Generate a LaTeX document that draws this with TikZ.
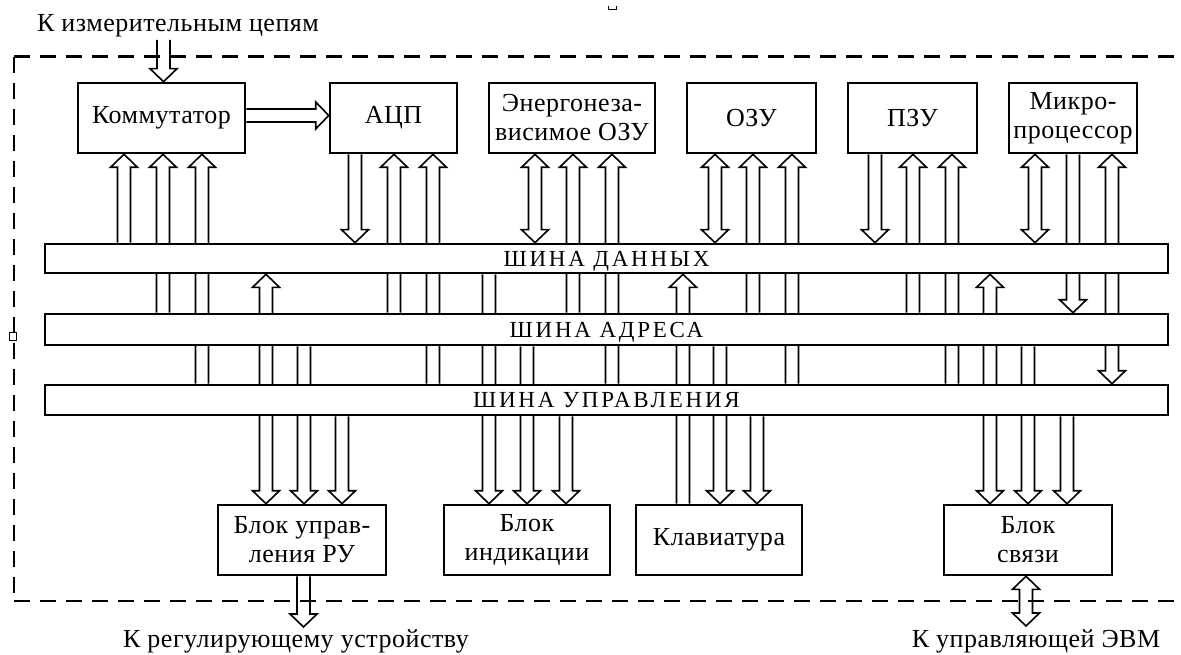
\documentclass[tikz,border=0pt]{standalone}
\usepackage{fontspec}
\setmainfont[LetterSpace=2]{Liberation Serif}
\newfontfamily\busfont[LetterSpace=12]{Liberation Serif}
\usetikzlibrary{calc,backgrounds}

\def\pipeW{6.5pt}
\def\pipeH{13.5pt}
\def\pipeL{13pt}

% #1 reference node, #2 x offset, #3 top anchor, #4 bottom anchor
\newcommand\pipeNN[4]{\draw[pipe] let \p3=($(#1.center)+(#2,0)$), \p1=(#3), \p2=(#4) in
  (\x3-\pipeW,\y1) -- (\x3-\pipeW,\y2) -- (\x3+\pipeW,\y2) -- (\x3+\pipeW,\y1);}
\newcommand\pipeUN[4]{\draw[pipe] let \p3=($(#1.center)+(#2,0)$), \p1=(#3), \p2=(#4) in
  (\x3-\pipeW,\y2) -- (\x3-\pipeW,\y1-\pipeL) -- (\x3-\pipeH,\y1-\pipeL) -- (\x3,\y1)
  -- (\x3+\pipeH,\y1-\pipeL) -- (\x3+\pipeW,\y1-\pipeL) -- (\x3+\pipeW,\y2);}
\newcommand\pipeND[4]{\draw[pipe] let \p3=($(#1.center)+(#2,0)$), \p1=(#3), \p2=(#4) in
  (\x3-\pipeW,\y1) -- (\x3-\pipeW,\y2+\pipeL) -- (\x3-\pipeH,\y2+\pipeL) -- (\x3,\y2)
  -- (\x3+\pipeH,\y2+\pipeL) -- (\x3+\pipeW,\y2+\pipeL) -- (\x3+\pipeW,\y1);}
\newcommand\pipeUD[4]{\draw[pipe] let \p3=($(#1.center)+(#2,0)$), \p1=(#3), \p2=(#4) in
  (\x3-\pipeW,\y1-\pipeL) -- (\x3-\pipeW,\y2+\pipeL) -- (\x3-\pipeH,\y2+\pipeL) -- (\x3,\y2)
  -- (\x3+\pipeH,\y2+\pipeL) -- (\x3+\pipeW,\y2+\pipeL) -- (\x3+\pipeW,\y1-\pipeL)
  -- (\x3+\pipeH,\y1-\pipeL) -- (\x3,\y1) -- (\x3-\pipeH,\y1-\pipeL) -- cycle;}

\tikzset{
  blk/.style={draw, line width=2.6pt, fill=white, inner sep=0pt, align=center,
    minimum height=70pt, font=\fontsize{26}{29}\selectfont},
  bus/.style={draw, line width=2.6pt, fill=white, inner sep=0pt,
    text height=15pt, text depth=0pt,
    minimum width=1123pt, font=\busfont\fontsize{23}{25}\selectfont},
  pipe/.style={draw, line width=1.6pt, fill=white, line join=miter},
  lbl/.style={font=\fontsize{26}{29}\selectfont, inner sep=0pt, anchor=base},
  frame/.style={dash pattern=on 16pt off 10pt},
}

\begin{document}
\begin{tikzpicture}[x=1pt,y=-1pt]
\useasboundingbox (0,0) rectangle (1181,655);

% top blocks
\node[blk, minimum width=167pt] (komm) at (161.5,118) {Коммутатор};
\node[blk, minimum width=127pt] (adc)  at (393.5,118) {АЦП};
\node[blk, minimum width=166pt] (eozu) at (572,118) {Энергонеза-\\висимое ОЗУ};
\node[blk, minimum width=129pt] (ozu)  at (751.5,118) {ОЗУ};
\node[blk, minimum width=129pt] (pzu)  at (912.5,118) {ПЗУ};
\node[blk, minimum width=128pt] (mp)   at (1073,118) {Микро-\\процессор};

% buses
\node[bus, minimum height=29pt] (dbus) at (606.5,258.5) {ШИНА ДАННЫХ};
\node[bus, minimum height=31pt] (abus) at (606.5,329.5) {ШИНА АДРЕСА};
\node[bus, minimum height=30pt] (cbus) at (606.5,400) {ШИНА УПРАВЛЕНИЯ};

% bottom blocks
\node[blk, minimum width=168pt] (bur)  at (302,540) {Блок управ-\\ления РУ};
\node[blk, minimum width=166pt] (bind) at (527,540) {Блок\\индикации};
\node[blk, minimum width=166pt] (klav) at (719,540) {Клавиатура};
\node[blk, minimum width=168pt] (bsv)  at (1028,540) {Блок\\связи};

% labels
\node[lbl] (lin)  at (178,32) {К измерительным цепям};
\node[lbl] (lreg) at (296,647) {К регулирующему устройству};
\node[lbl] (levm) at (1036,647) {К управляющей ЭВМ};

\coordinate (inp)  at (163.5,40);
\coordinate (outr) at (303.5,627);
\coordinate (oute) at (1026,626);

\begin{pgfonlayer}{background}
% input / outputs
\pipeND{inp}{0}{inp}{komm.north}
\pipeND{outr}{0}{bur.south}{outr}
\pipeUD{oute}{0}{bsv.south}{oute}
% komm -> adc
\draw[pipe] let \p1=($(komm.east)+(0,-2.5)$), \p2=(adc.west) in
  (\x1,\y1+\pipeW) -- (\x2-\pipeL,\y1+\pipeW) -- (\x2-\pipeL,\y1+\pipeH) -- (\x2,\y1)
  -- (\x2-\pipeL,\y1-\pipeH) -- (\x2-\pipeL,\y1-\pipeW) -- (\x1,\y1-\pipeW);

% Kommutator
\pipeUN{komm}{-37.5}{komm.south}{dbus.north}
\pipeUN{komm}{1.5}{komm.south}{abus.north}
\pipeUN{komm}{40.5}{komm.south}{cbus.north}
% ADC
\pipeND{adc}{-38.5}{adc.south}{dbus.north}
\pipeUN{adc}{0.5}{adc.south}{abus.north}
\pipeUN{adc}{39.5}{adc.south}{cbus.north}
% non-volatile RAM
\pipeUD{eozu}{-37}{eozu.south}{dbus.north}
\pipeUN{eozu}{1}{eozu.south}{abus.north}
\pipeUN{eozu}{40}{eozu.south}{cbus.north}
% RAM
\pipeUD{ozu}{-36.5}{ozu.south}{dbus.north}
\pipeUN{ozu}{1.5}{ozu.south}{abus.north}
\pipeUN{ozu}{40.5}{ozu.south}{cbus.north}
% ROM
\pipeND{pzu}{-37.5}{pzu.south}{dbus.north}
\pipeUN{pzu}{0.5}{pzu.south}{abus.north}
\pipeUN{pzu}{39.5}{pzu.south}{cbus.north}
% microprocessor
\pipeUD{mp}{-38}{mp.south}{dbus.north}
\pipeND{mp}{0}{mp.south}{abus.north}
\pipeUD{mp}{39}{mp.south}{cbus.north}

% control unit
\pipeUD{bur}{-36}{dbus.south}{bur.north}
\pipeND{bur}{2}{abus.south}{bur.north}
\pipeND{bur}{40}{cbus.south}{bur.north}
% indication
\pipeND{bind}{-38}{dbus.south}{bind.north}
\pipeND{bind}{0}{abus.south}{bind.north}
\pipeND{bind}{39}{cbus.south}{bind.north}
% keyboard
\pipeUN{klav}{-36}{dbus.south}{klav.north}
\pipeND{klav}{1}{abus.south}{klav.north}
\pipeND{klav}{38}{cbus.south}{klav.north}
% link unit
\pipeUD{bsv}{-38}{dbus.south}{bsv.north}
\pipeND{bsv}{0}{abus.south}{bsv.north}
\pipeND{bsv}{39}{cbus.south}{bsv.north}

% dashed frame
\draw[frame, line width=3pt] (14,57) -- (1181,57);
\draw[frame, line width=1.8pt] (14,57) -- (14,601);
\draw[frame, line width=2pt] (14,601) -- (1181,601);
\end{pgfonlayer}

% small marks
\draw[line width=0.8pt, fill=white] (9,332) rectangle (16,340);
\draw[line width=1pt] (608,6) -- (608,10) -- (616,10) -- (616,6);
\end{tikzpicture}
\end{document}
